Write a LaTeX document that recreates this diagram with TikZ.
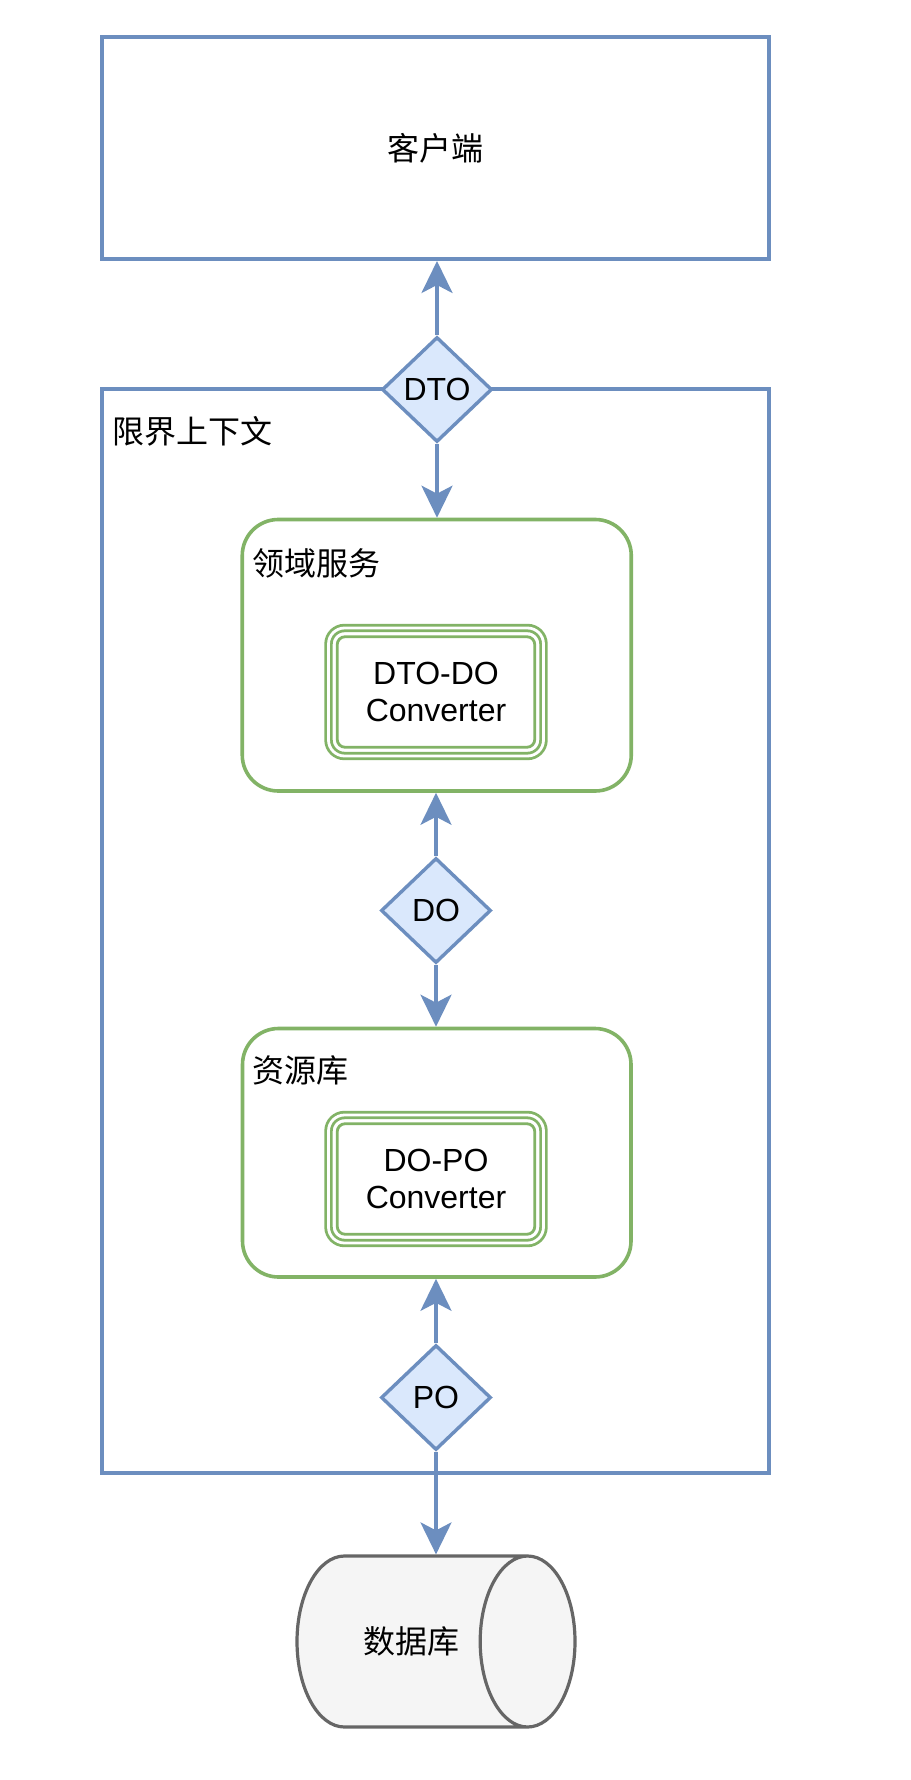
\documentclass[tikz,border=0pt]{standalone}
\usepackage{fontspec}
\setmainfont{Liberation Sans}
\newfontfamily\cjk{Noto Sans CJK SC}
\usetikzlibrary{shapes.geometric,arrows.meta}
\definecolor{bluedraw}{HTML}{6C8EBF}
\definecolor{bluefill}{HTML}{DAE8FC}
\definecolor{greendraw}{HTML}{82B366}
\definecolor{greydraw}{HTML}{666666}
\definecolor{greyfill}{HTML}{F5F5F5}

\begin{document}
\begin{tikzpicture}[x=0.5pt, y=-0.5pt,
    every node/.style={font=\fontsize{16pt}{18.5pt}\selectfont, text=black},
    bluebox/.style={rectangle, draw=bluedraw, line width=2pt, fill=white, inner sep=0pt},
    greenbox/.style={rectangle, draw=greendraw, line width=1.8pt, fill=white, rounded corners=18pt, inner sep=0pt},
    convbox/.style={rectangle, draw=greendraw, line width=1.4pt, double=white, double distance=1.4pt,
        rounded corners=8pt, minimum width=107.5pt, minimum height=64pt, align=center, inner sep=0pt, outer sep=0pt},
    convline/.style={draw=greendraw, line width=1.4pt, rounded corners=4pt},
    tag/.style={anchor=west, inner sep=0pt},
    objdia/.style={diamond, draw=bluedraw, fill=bluefill, line width=1.7pt, minimum width=55pt, minimum height=52.5pt, inner sep=0pt},
    flow/.style={draw=bluedraw, line width=1.7pt, -{Stealth[length=16pt, width=15.5pt, inset=4pt]}}
]
\useasboundingbox (0,0) rectangle (910,1780);

\node[bluebox, minimum width=333.5pt, minimum height=111pt] (client) at (435.5,148) {\cjk 客户端};
\node[bluebox, minimum width=333.5pt, minimum height=542pt] (context) at (435.5,931) {};
\node[tag] (contextname) at (112,431) {\cjk 限界上下文};

\node[greenbox, minimum width=194.5pt, minimum height=135.75pt] (service) at (436.75,655.25) {};
\node[tag] (servicename) at (252,563) {\cjk 领域服务};
\node[convbox] (dtodo) at (436,692) {DTO-DO\\Converter};
\draw[convline] ([shift={(4.35pt,-4.35pt)}]dtodo.north west) rectangle ([shift={(-4.35pt,4.35pt)}]dtodo.south east);

\node[greenbox, minimum width=194.25pt, minimum height=124.25pt] (repo) at (436.75,1152.75) {};
\node[tag] (reponame) at (252,1070) {\cjk 资源库};
\node[convbox] (dopo) at (436,1179) {DO-PO\\Converter};
\draw[convline] ([shift={(4.35pt,-4.35pt)}]dopo.north west) rectangle ([shift={(-4.35pt,4.35pt)}]dopo.south east);

\node[objdia] (dto) at (437,389.5) {DTO};
\node[objdia] (do) at (436,910.5) {DO};
\node[objdia] (po) at (436,1397.5) {PO};

\node[cylinder, draw=greydraw, line width=1.6pt, shape aspect=3.2, cylinder uses custom fill,
    cylinder body fill=greyfill, cylinder end fill=greyfill,
    minimum width=85.5pt, minimum height=139pt, inner sep=0pt] (db) at (411.5,1641.5) {\cjk 数据库};

\draw[flow] (dto.north) -- (dto.north |- client.south);
\draw[flow] (dto.south) -- (dto.south |- service.north);
\draw[flow] (do.north) -- (do.north |- service.south);
\draw[flow] (do.south) -- (do.south |- repo.north);
\draw[flow] (po.north) -- (po.north |- repo.south);
\draw[flow] (po.south) -- (po.south |- db.north);
\end{tikzpicture}
\end{document}
